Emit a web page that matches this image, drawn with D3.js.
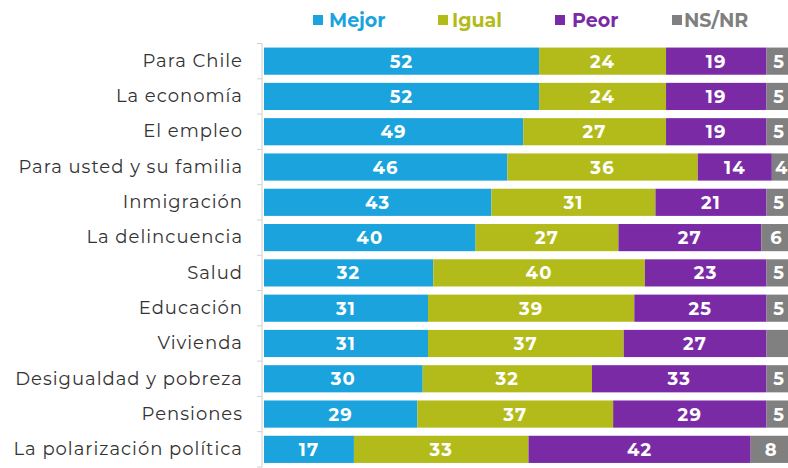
<!DOCTYPE html>
<html>
<head>
<meta charset="utf-8">
<script src="https://cdn.jsdelivr.net/npm/d3@7"></script>
<style>
  html, body { margin: 0; padding: 0; background: #ffffff; overflow: hidden; }
  svg { display: block; }
</style>
</head>
<body>
<svg id="chart" width="788" height="468"></svg>
<script>
const categories = ["Para Chile", "La economía", "El empleo", "Para usted y su familia", "Inmigración", "La delincuencia", "Salud", "Educación", "Vivienda", "Desigualdad y pobreza", "Pensiones", "La polarización política"];
const seriesNames = ["Mejor", "Igual", "Peor", "NS/NR"];
const mejor = [52, 52, 49, 46, 43, 40, 32, 31, 31, 30, 29, 17];
const igual = [24, 24, 27, 36, 31, 27, 40, 39, 37, 32, 37, 33];
const peor  = [19, 19, 19, 14, 21, 27, 23, 25, 27, 33, 29, 42];
const nsnr  = [5, 5, 5, 4, 5, 6, 5, 5, 5, 5, 5, 8];
const hiddenLabels = [[3, 8]]; // [series index, row index] labels not shown in the original
const colors = ["#1aa3dd", "#b3bb1b", "#7b2aa6", "#808080"];

const svg = d3.select("#chart");
const W = 788, H = 468;
const mLeft = 264, mRight = 793, mTop = 43.5, mBottom = 467;
const FONT = "Montserrat, 'Open Sans', sans-serif";

const x = d3.scaleLinear().domain([0, 100]).range([mLeft, mRight]);
const y = d3.scaleBand().domain(categories).range([mTop, mBottom]).paddingInner(0.23).paddingOuter(0.115);

const rows = categories.map((c, i) => ({cat: c, Mejor: mejor[i], Igual: igual[i], Peor: peor[i], "NS/NR": nsnr[i]}));
const stack = d3.stack().keys(seriesNames)(rows);

const g = svg.append("g");
stack.forEach((layer, si) => {
  g.append("g").selectAll("rect").data(layer).join("rect")
    .attr("x", d => x(d[0]))
    .attr("y", d => y(d.data.cat))
    .attr("width", d => x(d[1]) - x(d[0]))
    .attr("height", y.bandwidth())
    .attr("fill", colors[si]);
  g.append("g").selectAll("text").data(layer.map((d, i) => ({d, i})).filter(o => !hiddenLabels.some(h => h[0] === si && h[1] === o.i)))
    .join("text")
    .attr("x", o => si === 3 ? (x(o.d[0]) + Math.min(x(o.d[1]), W)) / 2 + 2 : (x(o.d[0]) + x(o.d[1])) / 2)
    .attr("y", o => y(o.d.data.cat) + y.bandwidth() / 2)
    .attr("dy", "0.36em")
    .attr("text-anchor", "middle")
    .attr("fill", "#ffffff")
    .attr("font-family", FONT)
    .attr("font-weight", 700)
    .attr("font-size", "18px")
    .attr("letter-spacing", "1.2px")
    .text(o => o.d[1] - o.d[0]);
});

// y axis
const axis = d3.axisLeft(y).tickSize(0).tickFormat(d => d);
const ax = svg.append("g").attr("transform", `translate(262,0)`).call(axis);
ax.select(".domain").attr("stroke", "#d0d0d0").attr("d", `M0,${mTop}V${mBottom}`);
ax.selectAll(".tick text")
  .attr("x", -19)
  .attr("fill", "#333333")
  .attr("font-family", FONT)
  .attr("font-size", "18px")
  .attr("letter-spacing", "1px");
// band boundary ticks
const boundaries = categories.map(c => y(c) - y.step() * y.paddingInner() / 2).concat([y(categories[categories.length-1]) + y.bandwidth() + y.step() * y.paddingInner() / 2]);
ax.append("g").selectAll("line").data(boundaries).join("line")
  .attr("x1", -5).attr("x2", 0)
  .attr("y1", d => d).attr("y2", d => d)
  .attr("stroke", "#d0d0d0");

// legend
const legendSquareX = [313, 438, 555, 672];
const legendTextX = [329, 452, 572, 684];
const lg = svg.append("g");
seriesNames.forEach((s, i) => {
  lg.append("rect").attr("x", legendSquareX[i]).attr("y", 15).attr("width", 10).attr("height", 10).attr("fill", colors[i]);
  lg.append("text").attr("x", legendTextX[i]).attr("y", 27)
    .attr("fill", colors[i])
    .attr("font-family", FONT)
    .attr("font-weight", 700)
    .attr("font-size", "19px")
    .text(s);
});
</script>
</body>
</html>
